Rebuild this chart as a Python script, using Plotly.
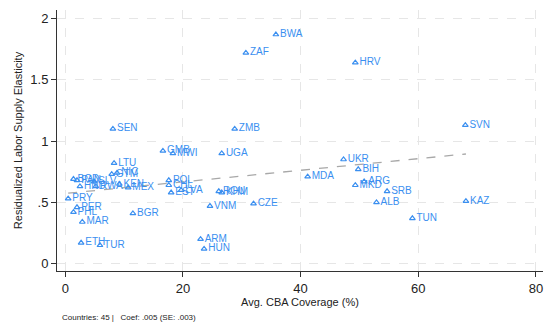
import plotly.graph_objects as go

# country data
countries = ["BWA", "ZAF", "HRV", "SVN", "SEN", "ZMB", "GMB", "MWI", "UGA", "LTU",
             "NIC", "GTM", "BGD", "PAN", "SLV", "HND", "RWA", "KEN", "MEX", "PRY",
             "PER", "PHL", "MAR", "ETH", "TUR", "BGR", "POL", "CHL", "EST", "LVA",
             "ROU", "KHM", "VNM", "CZE", "ARM", "HUN", "MDA", "UKR", "BIH", "ARG",
             "MKD", "SRB", "ALB", "TUN", "KAZ"]
cba_coverage = [35.8, 30.7, 49.3, 68.0, 8.1, 28.8, 16.6, 18.3, 26.6, 8.3,
                8.8, 7.9, 1.4, 2.0, 4.9, 2.5, 5.2, 9.2, 10.7, 0.5,
                2.0, 1.4, 2.9, 2.7, 5.9, 11.5, 17.6, 17.6, 18.0, 19.7,
                26.1, 26.6, 24.6, 32.0, 23.0, 23.6, 41.2, 47.3, 49.8, 50.8,
                49.3, 54.7, 52.9, 59.0, 68.1]
elasticity = [1.87, 1.72, 1.64, 1.13, 1.10, 1.10, 0.92, 0.90, 0.90, 0.82,
              0.74, 0.73, 0.69, 0.68, 0.67, 0.63, 0.63, 0.65, 0.62, 0.53,
              0.46, 0.42, 0.34, 0.17, 0.15, 0.41, 0.68, 0.64, 0.58, 0.60,
              0.59, 0.58, 0.47, 0.49, 0.20, 0.12, 0.71, 0.85, 0.77, 0.67,
              0.64, 0.59, 0.50, 0.37, 0.51]

fit_x = [0.5, 68.1]
fit_y = [0.575, 0.895]

blue = "#3a8ff0"

fig = go.Figure()
fig.add_trace(go.Scatter(x=fit_x, y=fit_y, mode="lines",
                         line=dict(color="#a8a8a8", width=1.3, dash="dash"),
                         hoverinfo="skip"))
fig.add_trace(go.Scatter(x=cba_coverage, y=elasticity, mode="markers+text",
                         text=countries, textposition="middle right",
                         textfont=dict(color=blue, size=10),
                         marker=dict(symbol="triangle-up-open", size=5, color=blue,
                                     line=dict(width=1.2, color=blue))))

fig.update_xaxes(range=[-1.4, 81.2], tickvals=[0, 20, 40, 60, 80],
                 showline=True, linecolor="#333", linewidth=1,
                 ticks="outside", ticklen=5, tickcolor="#333",
                 tickfont=dict(size=13),
                 showgrid=True, gridcolor="#e6e6e6", griddash="dash", gridwidth=1,
                 zeroline=False, automargin=False,
                 title=dict(text="Avg. CBA Coverage (%)", font=dict(size=11), standoff=2))
fig.update_yaxes(range=[-0.06, 2.07], tickvals=[0, 0.5, 1, 1.5, 2],
                 ticktext=["0", ".5", "1", "1.5", "2"],
                 showline=True, linecolor="#333", linewidth=1,
                 ticks="outside", ticklen=5, tickcolor="#333",
                 tickfont=dict(size=13),
                 showgrid=True, gridcolor="#e6e6e6", griddash="dash", gridwidth=1,
                 zeroline=False, automargin=False,
                 title=dict(text="Residualized Labor Supply Elasticity", font=dict(size=11), standoff=5))

fig.add_annotation(text="Countries: 45 |   Coef: .005 (SE: .003)", xref="paper", yref="paper",
                   x=0.006, y=-0.18, xanchor="left", yanchor="middle", showarrow=False,
                   font=dict(size=8, color="#222"))

# page body adds an 8px offset, so the figure is sized to fit the window
fig.update_layout(
    width=547, height=325,
    font_family="Liberation Sans, Arial, sans-serif", font_size=12, font_color="#222",
    paper_bgcolor="white", plot_bgcolor="white",
    showlegend=False,
    margin={"l": 49, "r": 12, "b": 62, "t": 2, "pad": 0})

fig.write_html("out.html")
